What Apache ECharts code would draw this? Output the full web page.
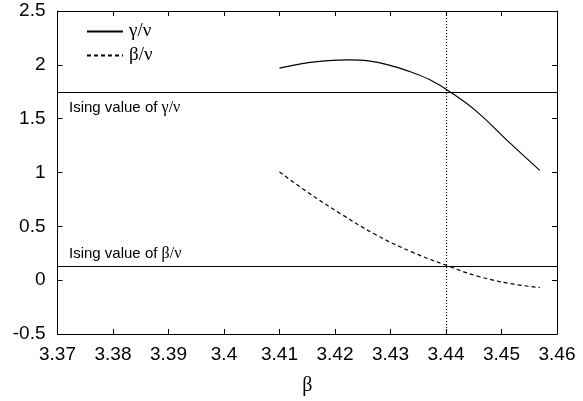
<!DOCTYPE html>
<html>
<head>
<meta charset="utf-8">
<script src="https://cdn.jsdelivr.net/npm/echarts@6/dist/echarts.min.js"></script>
<style>html,body{margin:0;padding:0;background:#fff}#c{width:583px;height:401px}</style>
</head>
<body>
<div id="c"></div>
<script>
var gammaX = [3.41, 3.4152, 3.4188, 3.4224, 3.426, 3.4296, 3.4337, 3.4371, 3.4407, 3.4455, 3.4515, 3.4569];
var gammaNu = [1.969, 2.021, 2.040, 2.046, 2.037, 2.0, 1.933, 1.861, 1.75, 1.568, 1.275, 1.02];
var betaX = [3.41, 3.4152, 3.4212, 3.4272, 3.4337, 3.4407, 3.4455, 3.4515, 3.4569];
var betaNu = [1.005, 0.812, 0.611, 0.426, 0.265, 0.125, 0.040, -0.031, -0.068];
var isingGamma = 1.75;
var isingBeta = 0.125;
var betaC = 3.4407;
var xTicks = [3.37, 3.46, 0.01];
var yTicks = [-0.5, 2.5, 0.5];

function pairs(xs, ys) { return xs.map(function (x, i) { return [x, ys[i]]; }); }
var sans = 'Liberation Sans, Arial, sans-serif';
var serif = 'Liberation Serif, Times New Roman, serif';
var chart = echarts.init(document.getElementById('c'));
function axisCommon() {
  return {
    axisLine: { show: true, onZero: false, lineStyle: { color: '#000', width: 1 } },
    axisTick: { show: true, inside: true, length: 5, lineStyle: { color: '#000' } },
    splitLine: { show: false }
  };
}
function fmt(v) { return String(parseFloat(v.toFixed(2))); }
chart.setOption({
  animation: false,
  backgroundColor: '#fff',
  grid: { left: 57.5, right: 26, top: 11, bottom: 66 },
  legend: {
    left: 81, top: 17, orient: 'vertical', itemGap: 5,
    itemWidth: 36, itemHeight: 20,
    itemStyle: { color: 'rgba(0,0,0,0)', borderColor: 'rgba(0,0,0,0)', borderWidth: 0, opacity: 0 },
    textStyle: { fontFamily: serif, fontSize: 19, color: '#000', padding: [0, 0, 0, 1] },
    data: ['γ/ν', 'β/ν']
  },
  xAxis: [
    Object.assign({
      type: 'value', min: xTicks[0], max: xTicks[1], interval: xTicks[2],
      name: 'β', nameLocation: 'middle', nameGap: 42,
      nameTextStyle: { fontFamily: serif, fontSize: 20, color: '#000' },
      axisLabel: { fontFamily: sans, fontSize: 19, color: '#000', margin: 11, formatter: fmt }
    }, axisCommon()),
    Object.assign({
      type: 'value', position: 'top', min: xTicks[0], max: xTicks[1], interval: xTicks[2],
      axisLabel: { show: false }
    }, axisCommon())
  ],
  yAxis: [
    Object.assign({
      type: 'value', min: yTicks[0], max: yTicks[1], interval: yTicks[2],
      axisLabel: { fontFamily: sans, fontSize: 19, color: '#000', margin: 12, formatter: fmt }
    }, axisCommon()),
    Object.assign({
      type: 'value', position: 'right', min: yTicks[0], max: yTicks[1], interval: yTicks[2],
      axisLabel: { show: false }
    }, axisCommon())
  ],
  series: [
    {
      name: 'γ/ν', type: 'line', smooth: 0.4, symbol: 'none',
      data: pairs(gammaX, gammaNu),
      lineStyle: { color: '#000', width: 1.2, type: 'solid' },
      itemStyle: { color: '#000' },
      markLine: {
        silent: true, symbol: 'none',
        label: { show: false },
        data: [
          { yAxis: isingGamma, lineStyle: { color: '#000', width: 1.2, type: 'solid' } },
          { yAxis: isingBeta, lineStyle: { color: '#000', width: 1.2, type: 'solid' } },
          { xAxis: betaC, lineStyle: { color: '#000', width: 1.2, type: [1, 2] } }
        ]
      }
    },
    {
      name: 'β/ν', type: 'line', smooth: 0.4, symbol: 'none',
      data: pairs(betaX, betaNu),
      lineStyle: { color: '#000', width: 1.2, type: [4, 3] },
      itemStyle: { color: '#000' }
    }
  ],
  graphic: [
    {
      type: 'text', left: 69, top: 100,
      style: {
        text: '{a|Ising value of }{b|γ/ν}',
        rich: {
          a: { fontFamily: sans, fontSize: 15, fill: '#000' },
          b: { fontFamily: serif, fontSize: 16, fill: '#000' }
        }
      }
    },
    {
      type: 'text', left: 69, top: 246,
      style: {
        text: '{a|Ising value of }{b|β/ν}',
        rich: {
          a: { fontFamily: sans, fontSize: 15, fill: '#000' },
          b: { fontFamily: serif, fontSize: 16, fill: '#000' }
        }
      }
    }
  ]
});
</script>
</body>
</html>
